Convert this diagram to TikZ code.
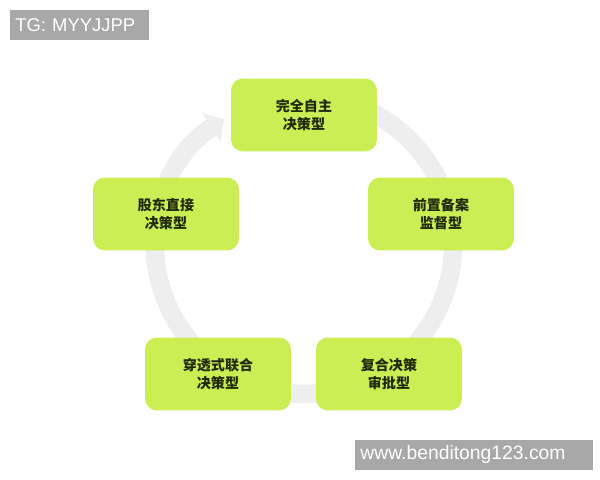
\documentclass[tikz,border=0pt]{standalone}
\usepackage{fontspec}
\setmainfont{Liberation Sans}
\newfontfamily\cjk{Noto Sans CJK SC}
\usepackage{tikz}
\usetikzlibrary{arrows.meta}
\definecolor{stagegreen}{HTML}{CBEE55}
\definecolor{ringgray}{HTML}{EEEEEE}
\definecolor{markgray}{HTML}{A8A8A8}
\definecolor{stagetext}{HTML}{1E2A08}
\tikzstyle{stage} = [rectangle, rounded corners=0.24cm, minimum width=2.92cm, minimum height=1.46cm, text centered, align=center, fill=stagegreen, text=stagetext, font=\cjk\bfseries\fontsize{8}{10.2}\selectfont]
\tikzstyle{watermark} = [rectangle, anchor=west, fill=markgray, text=white, inner xsep=0.1cm, inner ysep=0pt, minimum height=0.6cm, align=left, font=\fontsize{11}{13}\selectfont]
\tikzstyle{ring} = [line width=0.37cm, draw=ringgray, -{Triangle[length=0.3cm, width=0.68cm]}]

\begin{document}
\begin{tikzpicture}[x=0.02cm, y=0.02cm]
        \useasboundingbox (0,0) rectangle (600,480);
        \coordinate (ringcenter) at (304,235);
        \draw [ring] (ringcenter) ++(110:2.98cm) arc[start angle=110, end angle=-237.5, radius=2.98cm];

        \node (topstage) [stage] at (304,365) {完全自主\\决策型};
        \node (rightstage) [stage] at (441,266) {前置备案\\监督型};
        \node (lowrightstage) [stage] at (389,106) {复合决策\\审批型};
        \node (lowleftstage) [stage] at (218,106) {穿透式联合\\决策型};
        \node (leftstage) [stage] at (166,266) {股东直接\\决策型};

        \node (tgmark) [watermark, text width=2.58cm, font=\fontsize{10.5}{12}\selectfont] at (10,455) {TG: MYYJJPP};
        \node (sitemark) [watermark, text width=4.56cm] at (355,25) {www.benditong123.com};
    \end{tikzpicture}
\end{document}
